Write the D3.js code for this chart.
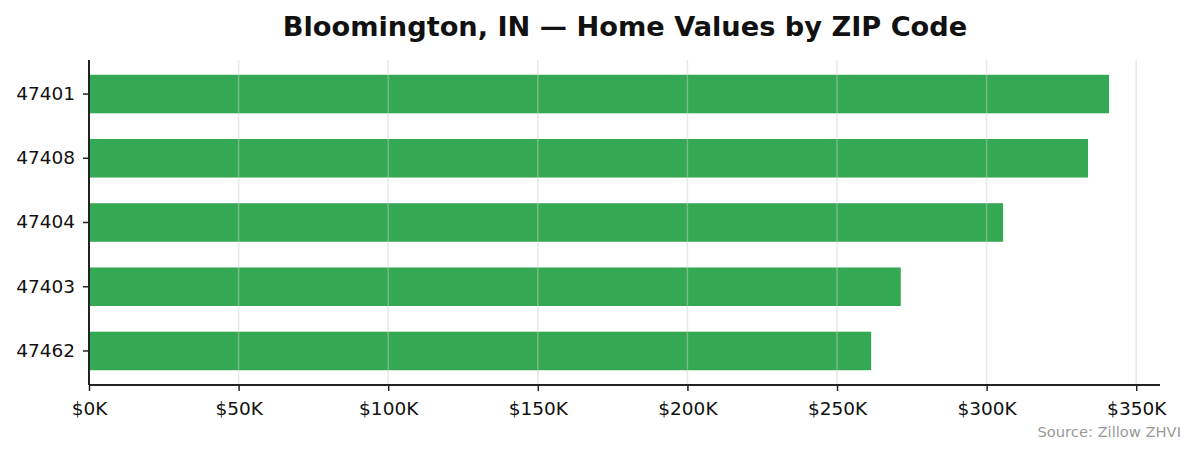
<!DOCTYPE html>
<html>
<head>
<meta charset="utf-8">
<script src="https://cdn.jsdelivr.net/npm/d3@7"></script>
<style>
  body { margin: 0; background: #fff; }
  svg { font-family: "DejaVu Sans", sans-serif; }
</style>
</head>
<body>
<svg id="chart" width="1195" height="455"></svg>
<script>
// data
const zips = ["47401", "47408", "47404", "47403", "47462"]
const homeValues = [340900, 333900, 305500, 271300, 261400]
const xTicks = [0, 50000, 100000, 150000, 200000, 250000, 300000, 350000]

const W = 1195, H = 455
const margin = {top: 60, right: 35, bottom: 70, left: 89}

const svg = d3.select("#chart")

const x = d3.scaleLinear()
  .domain([0, d3.max(homeValues) * 1.05])
  .range([margin.left, W - margin.right])

const y = d3.scaleBand()
  .domain(zips)
  .range([margin.top, H - margin.bottom])
  .paddingInner(0.4)
  .paddingOuter(0.23)

const data = zips.map((z, i) => ({zip: z, value: homeValues[i]}))

// bars
svg.append("g")
  .selectAll("rect")
  .data(data)
  .join("rect")
  .attr("x", x(0))
  .attr("y", d => y(d.zip))
  .attr("width", d => x(d.value) - x(0))
  .attr("height", y.bandwidth())
  .attr("fill", "#34a853")

// grid drawn on top, faint
svg.append("g")
  .selectAll("line")
  .data(xTicks.slice(1))
  .join("line")
  .attr("x1", d => x(d)).attr("x2", d => x(d))
  .attr("y1", margin.top).attr("y2", H - margin.bottom)
  .attr("stroke", "#cccccc")
  .attr("stroke-opacity", 0.45)
  .attr("stroke-width", 1.5)

// x axis
const xAxis = svg.append("g")
  .attr("transform", `translate(0,${H - margin.bottom})`)
  .call(d3.axisBottom(x).tickValues(xTicks).tickSize(6).tickPadding(11)
    .tickFormat(d => `$${d / 1000}K`))
xAxis.select(".domain").attr("stroke", "#222").attr("stroke-width", 2)
  .attr("d", `M${x(0)},0H${W - margin.right}`)
xAxis.selectAll(".tick line").attr("stroke", "#222").attr("stroke-width", 1.5)
xAxis.selectAll(".tick text").attr("fill", "#111").attr("font-size", "18.5px")
  .attr("font-family", "DejaVu Sans")

// y axis
const yAxis = svg.append("g")
  .attr("transform", `translate(${margin.left},0)`)
  .call(d3.axisLeft(y).tickSize(6).tickPadding(8))
yAxis.select(".domain").attr("stroke", "#222").attr("stroke-width", 2)
  .attr("d", `M0,${margin.top}V${H - margin.bottom}`)
yAxis.selectAll(".tick line").attr("stroke", "#222").attr("stroke-width", 1.5)
yAxis.selectAll(".tick text").attr("fill", "#111").attr("font-size", "18.5px")
  .attr("font-family", "DejaVu Sans")

// title
svg.append("text")
  .attr("x", 625).attr("y", 36)
  .attr("text-anchor", "middle")
  .attr("font-size", "27.2px")
  .attr("font-weight", "bold")
  .attr("fill", "#111")
  .text("Bloomington, IN — Home Values by ZIP Code")

// source note
svg.append("text")
  .attr("x", 1181).attr("y", 437)
  .attr("text-anchor", "end")
  .attr("font-size", "14.7px")
  .attr("fill", "#999")
  .text("Source: Zillow ZHVI")
</script>
</body>
</html>
